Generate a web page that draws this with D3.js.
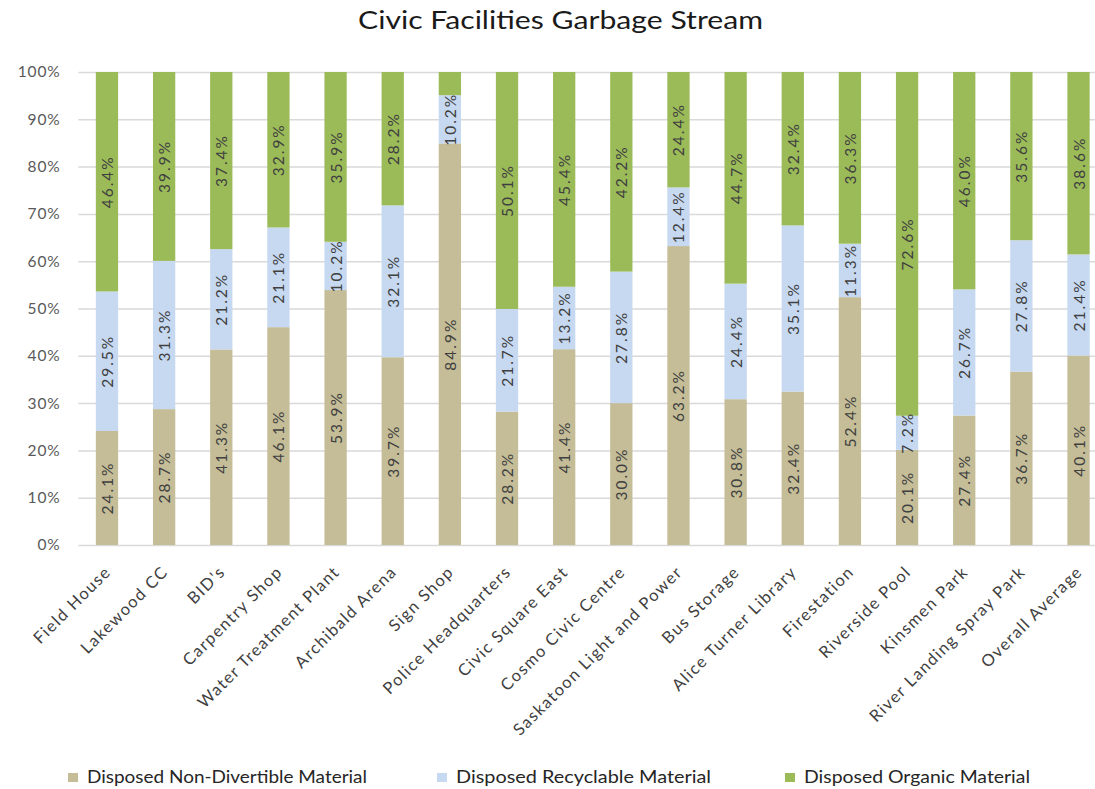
<!DOCTYPE html>
<html><head><meta charset="utf-8">
<script src="https://cdn.jsdelivr.net/npm/d3@7"></script>
<style>body{margin:0;background:#fff;}svg{display:block;font-family:Lato,"Open Sans",sans-serif;}</style>
</head><body>
<svg id="c" width="1095" height="789"></svg>
<script>
const categories = ["Field House","Lakewood CC","BID's","Carpentry Shop","Water Treatment Plant","Archibald Arena","Sign Shop","Police Headquarters","Civic Square East","Cosmo Civic Centre","Saskatoon Light and Power","Bus Storage","Alice Turner Library","Firestation","Riverside Pool","Kinsmen Park","River Landing Spray Park","Overall Average"];
const seriesNames = ["Disposed Non-Divertible Material","Disposed Recyclable Material","Disposed Organic Material"];
const nonDivertible = [24.1,28.7,41.3,46.1,53.9,39.7,84.9,28.2,41.4,30.0,63.2,30.8,32.4,52.4,20.1,27.4,36.7,40.1];
const recyclable    = [29.5,31.3,21.2,21.1,10.2,32.1,10.2,21.7,13.2,27.8,12.4,24.4,35.1,11.3,7.2,26.7,27.8,21.4];
const organic       = [46.4,39.9,37.4,32.9,35.9,28.2,4.9,50.1,45.4,42.2,24.4,44.7,32.4,36.3,72.6,46.0,35.6,38.6];
const yTicks = [0,0.1,0.2,0.3,0.4,0.5,0.6,0.7,0.8,0.9,1.0];
const colors = ["#C4BD97","#C6D9F1","#9BBB59"];

const svg = d3.select("#c");
const m = {left:78.4, top:72, bottom:545};
const step = 57.15;
const x = d3.scaleBand().domain(categories).range([m.left, m.left + step*categories.length]).paddingInner(0.61).paddingOuter(0.305);
const y = d3.scaleLinear().domain([0,1]).range([m.bottom, m.top]);

const rows = categories.map((c,i)=>({cat:c, s0:nonDivertible[i], s1:recyclable[i], s2:organic[i]}));
const stack = d3.stack().keys(["s0","s1","s2"]).offset(d3.stackOffsetExpand);
const layers = stack(rows);

// title
svg.append("text").attr("x",358).attr("y",29)
  .attr("font-size",25).attr("fill","#1a1a1a")
  .attr("textLength",405).attr("lengthAdjust","spacingAndGlyphs")
  .text("Civic Facilities Garbage Stream");

// gridlines + y axis
const yAxis = d3.axisLeft(y).tickValues(yTicks).tickFormat(d3.format(".0%")).tickSize(-(1095-m.left)).tickPadding(18);
const ga = svg.append("g").attr("transform",`translate(${m.left},0)`).call(yAxis);
ga.select(".domain").remove();
ga.selectAll(".tick line").attr("stroke","#D9D9D9").attr("stroke-width",1.5);
ga.selectAll(".tick text").attr("font-size",15.5).attr("fill","#595959")
  .attr("font-family","Lato,sans-serif").attr("letter-spacing",0.8);

// bars
const lg = svg.append("g").selectAll("g").data(layers).join("g").attr("fill",(d,i)=>colors[i]);
lg.selectAll("rect").data(d=>d).join("rect")
  .attr("x",d=>x(d.data.cat)).attr("width",x.bandwidth())
  .attr("y",d=>y(d[1])).attr("height",d=>y(d[0])-y(d[1]));

// labels
const vals = [nonDivertible, recyclable, organic];
layers.forEach((L,si)=>{
  svg.append("g").selectAll("text").data(L).join("text")
    .filter((d,i)=>vals[si][i] >= 5)
    .attr("transform",d=>`translate(${x(d.data.cat)+x.bandwidth()/2+6},${y((d[0]+d[1])/2)}) rotate(-90)`)
    .attr("text-anchor","middle").attr("font-size",15.5).attr("fill","#404040")
    .attr("letter-spacing",2)
    .text(d=>d3.format(".1f")(vals[si][categories.indexOf(d.data.cat)])+"%");
});

// x labels
svg.append("g").selectAll("text").data(categories).join("text")
  .attr("transform",d=>`translate(${x(d)+x.bandwidth()/2+5},${573}) rotate(-45)`)
  .attr("text-anchor","end").attr("font-size",16.5).attr("fill","#404040")
  .attr("letter-spacing",1.4).text(d=>d);

// legend
const legX = [68, 437, 785];
const legW = [280, 255, 226];
const lgd = svg.append("g").selectAll("g").data(seriesNames).join("g")
  .attr("transform",(d,i)=>`translate(${legX[i]},773)`);
lgd.append("rect").attr("x",0).attr("y",0).attr("width",10).attr("height",9).attr("fill",(d,i)=>colors[i]);
lgd.append("text").attr("x",19).attr("y",10).attr("font-size",16.5).attr("fill","#262626")
  .attr("textLength",(d,i)=>legW[i]).attr("lengthAdjust","spacingAndGlyphs").text(d=>d);
</script>
</body></html>
